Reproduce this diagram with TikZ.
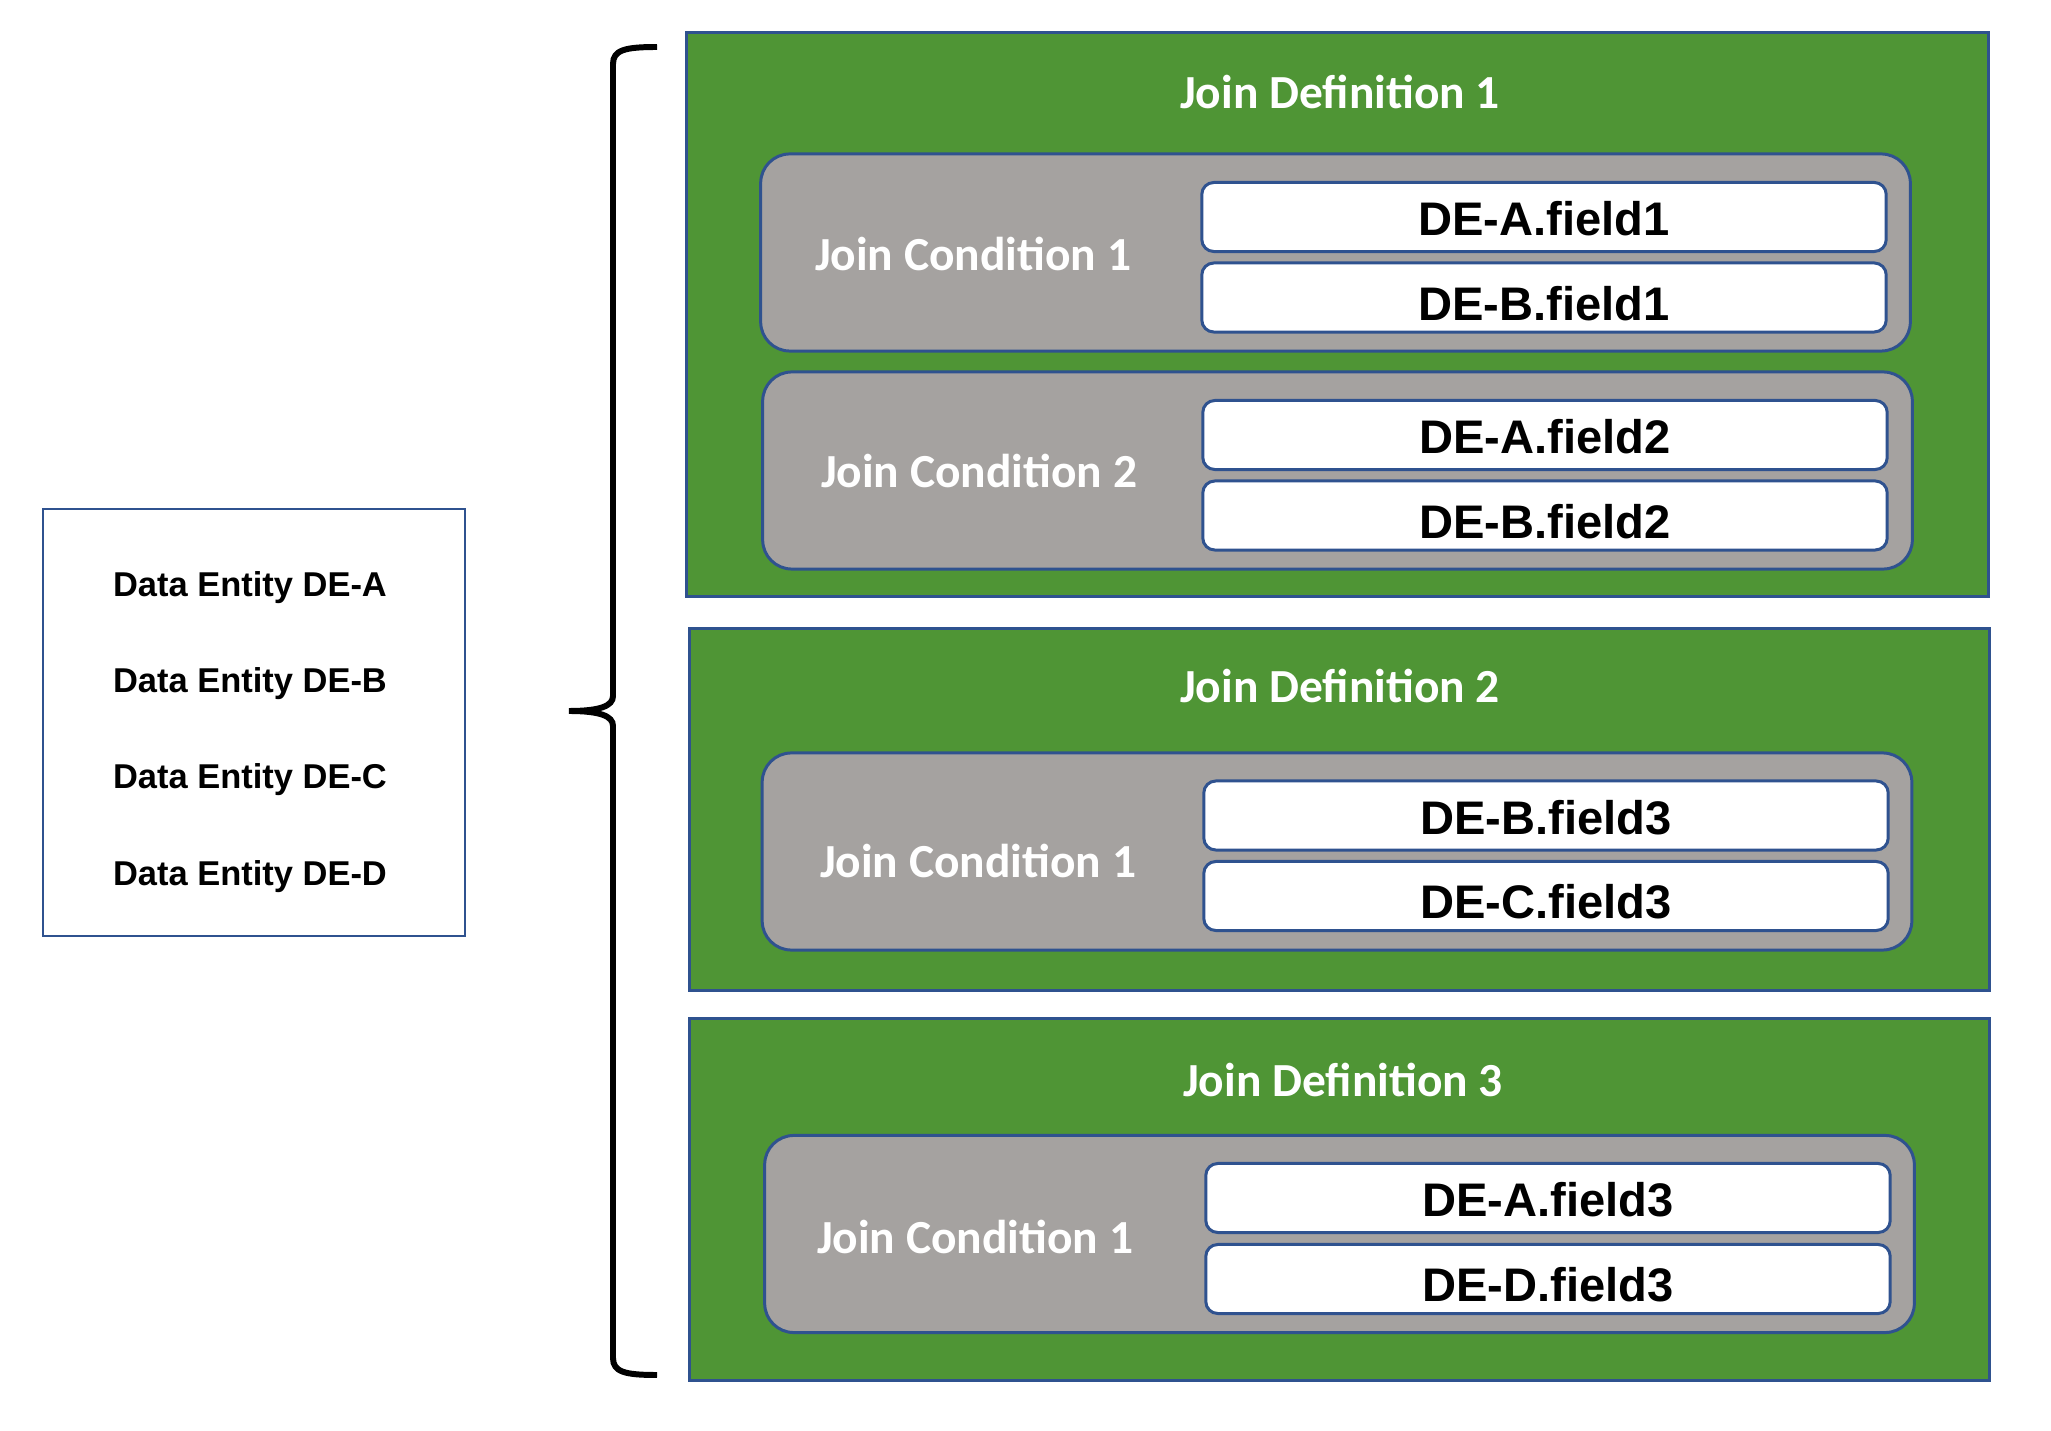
\documentclass[tikz,border=0pt]{standalone}
\usepackage{fontspec}
\setmainfont{Liberation Sans}
\newfontfamily\calibri{Carlito}
\usepackage{xcolor}
\usepackage{tikz}
\usetikzlibrary{positioning}
\definecolor{vertdef}{HTML}{4F9535}
\definecolor{bleubord}{HTML}{2F528F}
\definecolor{griscond}{HTML}{A5A2A0}
\tikzset{
  definition/.style={rectangle, draw=bleubord, fill=vertdef, line width=0.85pt,
    minimum width=12.99cm, minimum height=3.61cm, inner sep=0pt},
  condition/.style={rectangle, rounded corners=8.3pt, draw=bleubord, fill=griscond,
    line width=0.85pt, minimum width=11.49cm, minimum height=1.97cm, inner sep=0pt},
  champ/.style={rectangle, rounded corners=3.4pt, draw=bleubord, fill=white,
    line width=0.85pt, minimum width=6.84cm, minimum height=0.69cm, inner sep=0pt,
    text height=10.8pt, text depth=0pt, font=\bfseries\fontsize{13.4}{16}\selectfont},
  champbas/.style={champ, text height=13pt},
  titre/.style={anchor=base, text=white, inner sep=0pt,
    font=\calibri\bfseries\fontsize{13.5}{16}\selectfont},
  cadre/.style={rectangle, draw=bleubord, line width=0.6pt,
    minimum width=4.22cm, minimum height=4.27cm},
  entite/.style={anchor=base, inner sep=0pt, font=\bfseries\fontsize{9.8}{12}\selectfont},
  accolade/.style={line width=1.7pt}
}

\begin{document}
\begin{tikzpicture}[x=0.01cm, y=-0.01cm]
    \useasboundingbox (0,0) rectangle (2051,1431);

    \node[cadre] (entites) at (254, 722.5) {};
    \foreach \l/\y in {A/597, B/693, C/789, D/886} {
      \node[entite] (de\l) at (250, \y) {Data Entity DE-\l};
    }

    \draw[accolade] (657,47) .. controls (625,47) and (613,50) .. (613,64) -- (613,696)
      .. controls (613,706) and (600,711) .. (569,711)
      .. controls (600,711) and (613,716) .. (613,726) -- (613,1358)
      .. controls (613,1372) and (625,1375) .. (657,1375);

    \node[definition, minimum width=13.01cm, minimum height=5.63cm] (jd1) at (1337.5, 314.5) {};
    \node[definition] (jd2) at (1339.5, 809.5) {};
    \node[definition] (jd3) at (1339.5, 1199.5) {};
    \node[titre] (t1) at (1340, 109) {Join Definition 1};
    \node[titre] (t2) at (1340, 703) {Join Definition 2};
    \node[titre] (t3) at (1343, 1096) {Join Definition 3};

    \node[condition] (jd1c1) at (1335.5, 252.5) {};
    \node[condition] (jd1c2) at (1337.5, 470.5) {};
    \node[condition] (jd2c1) at (1337, 851.5) {};
    \node[condition] (jd3c1) at (1339.5, 1234) {};
    \node[titre] (l11) at (973, 271) {Join Condition 1};
    \node[titre] (l12) at (979, 488) {Join Condition 2};
    \node[titre] (l21) at (978, 878) {Join Condition 1};
    \node[titre] (l31) at (975, 1253) {Join Condition 1};

    \node[champ] (f11a) at (1544, 217) {DE-A.field1};
    \node[champbas] (f11b) at (1544, 297.5) {DE-B.field1};
    \node[champ] (f12a) at (1545, 435) {DE-A.field2};
    \node[champbas] (f12b) at (1545, 515.5) {DE-B.field2};
    \node[champ] (f21a) at (1546, 815.5) {DE-B.field3};
    \node[champbas] (f21b) at (1546, 896) {DE-C.field3};
    \node[champ] (f31a) at (1548, 1198) {DE-A.field3};
    \node[champbas] (f31b) at (1548, 1279) {DE-D.field3};
  \end{tikzpicture}
\end{document}
